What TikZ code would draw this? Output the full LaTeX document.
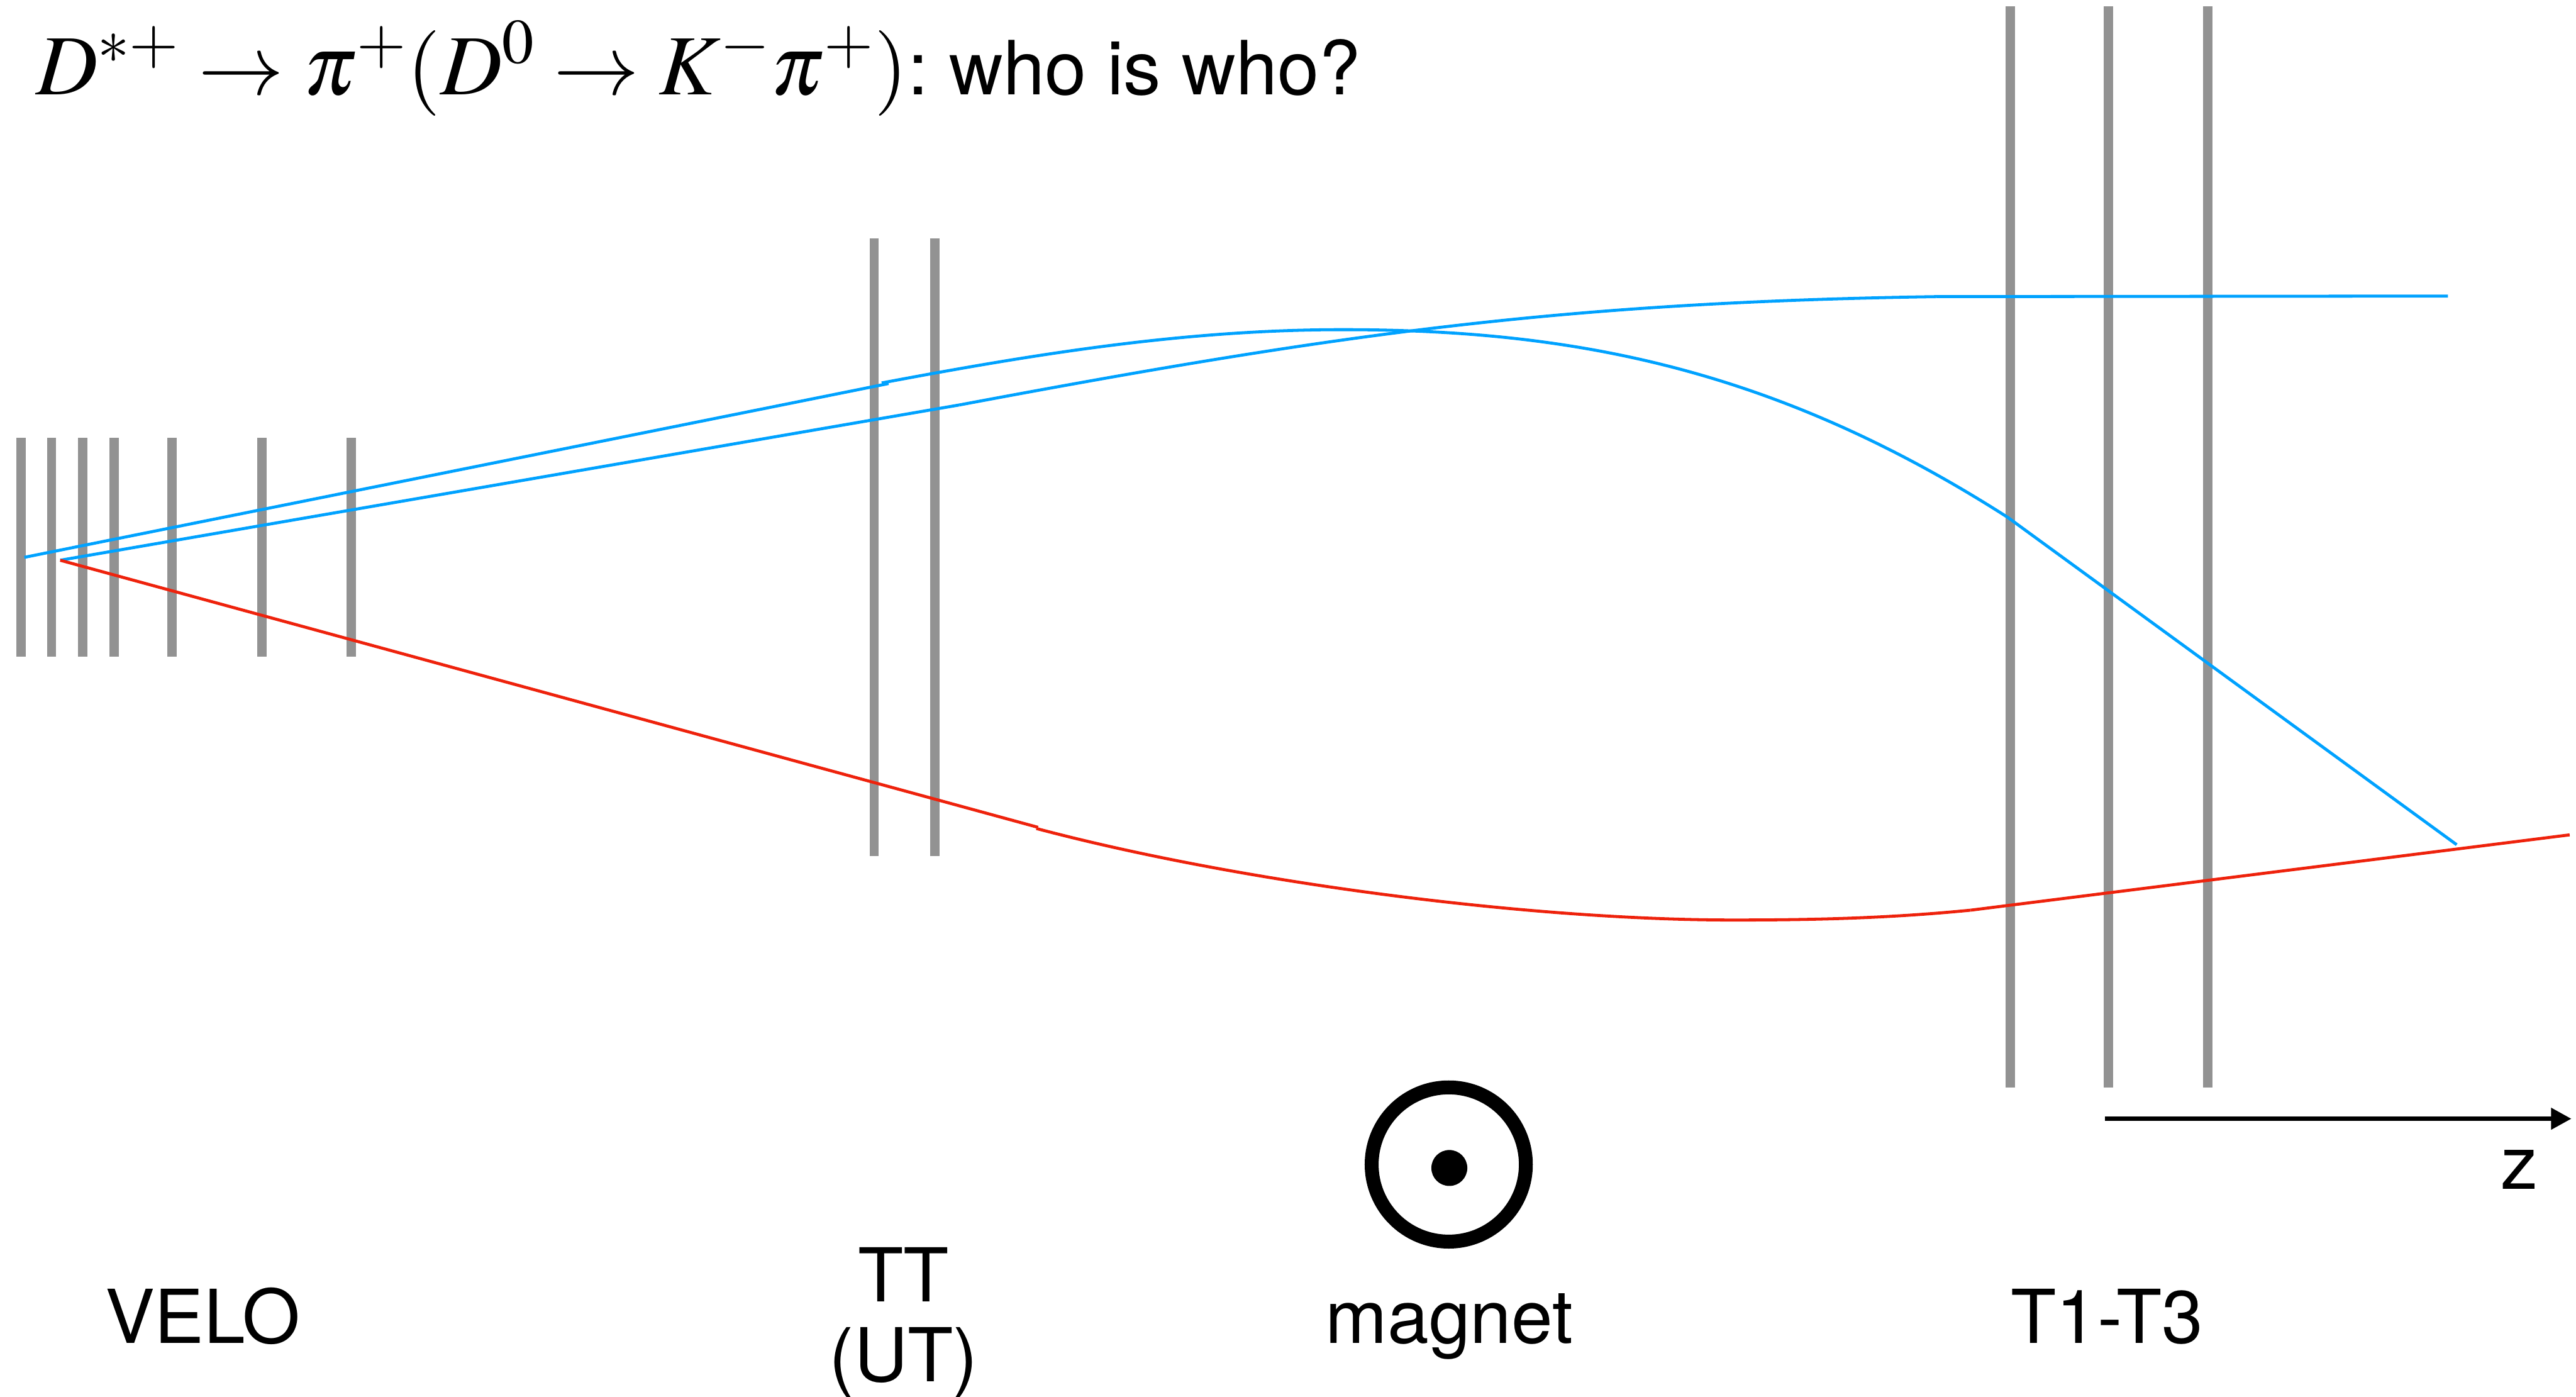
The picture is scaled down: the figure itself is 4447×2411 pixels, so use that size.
\documentclass[tikz,border=0pt]{standalone}
\usepackage{mathptmx}
\usepackage[no-math]{fontspec}
\setmainfont{TeX Gyre Heros}
\usepackage{pgf, tikz}
\usetikzlibrary{arrows.meta}
\pgfdeclarelayer{edgelayer}
\pgfdeclarelayer{nodelayer}
\pgfsetlayers{edgelayer,nodelayer,main}
\definecolor{plane}{HTML}{929292}
\definecolor{pion}{HTML}{00A2FF}
\definecolor{kaon}{HTML}{EE220C}
\tikzstyle{none}=[inner sep=0pt, outer sep=0pt]
\tikzstyle{caption}=[none, anchor=base, font=\fontsize{36.5}{39.3}\selectfont]
\tikzstyle{plane}=[draw=plane, line width=0.16cm]
\tikzstyle{pitrack}=[draw=pion, line width=0.052cm]
\tikzstyle{ktrack}=[draw=kaon, line width=0.052cm]
\tikzstyle{zaxis}=[draw=black, line width=0.075cm, -{Triangle[length=0.35cm, width=0.36cm]}]

\begin{document}
\begin{tikzpicture}[x=0.01cm, y=-0.01cm]
	\useasboundingbox (0, 0) rectangle (4447, 2411);
	\begin{pgfonlayer}{nodelayer}
		\coordinate (0) at (36, 756);
		\coordinate (1) at (36, 1133);
		\coordinate (2) at (89, 756);
		\coordinate (3) at (89, 1133);
		\coordinate (4) at (143, 756);
		\coordinate (5) at (143, 1133);
		\coordinate (6) at (197, 756);
		\coordinate (7) at (197, 1133);
		\coordinate (8) at (297, 756);
		\coordinate (9) at (297, 1133);
		\coordinate (10) at (452, 756);
		\coordinate (11) at (452, 1133);
		\coordinate (12) at (606, 756);
		\coordinate (13) at (606, 1133);
		\coordinate (14) at (1509, 411);
		\coordinate (15) at (1509, 1478);
		\coordinate (16) at (1614, 411);
		\coordinate (17) at (1614, 1478);
		\coordinate (18) at (3470, 11);
		\coordinate (19) at (3470, 1877);
		\coordinate (20) at (3640, 11);
		\coordinate (21) at (3640, 1877);
		\coordinate (22) at (3811, 11);
		\coordinate (23) at (3811, 1877);
		\coordinate (24) at (42, 962);
		\coordinate (25) at (1534, 662);
		\coordinate (26) at (1522, 661);
		\coordinate (27) at (2318, 569);
		\coordinate (28) at (3466, 893);
		\coordinate (29) at (4241, 1458);
		\coordinate (30) at (104, 967);
		\coordinate (31) at (1656, 699);
		\coordinate (32) at (3342, 512);
		\coordinate (33) at (4226, 511);
		\coordinate (34) at (1792, 1428);
		\coordinate (35) at (1789, 1430);
		\coordinate (36) at (2992, 1588);
		\coordinate (37) at (3402, 1571);
		\coordinate (38) at (4436, 1441);
		\coordinate (39) at (3634, 1931);
		\coordinate (40) at (4439, 1931);
		\node [style=none, anchor=base west] (41) at (62, 163) {\fontsize{42}{50}\selectfont$D^{*+}\to\pi^{+}(D^{0}\to K^{-}\pi^{+})$\fontsize{36.7}{40}\selectfont:\hspace{-0.12cm} who is who?};
		\node [style=caption] (42) at (350, 2318) {VELO};
		\node [style=caption, align=center] (43) at (1560, 2385) {TT\\(UT)};
		\node [style=caption] (44) at (2502, 2318) {magnet};
		\node [style=caption] (45) at (3637, 2318) {T1-T3};
		\node [style=caption] (46) at (4349, 2053) {z};
		\node [circle, draw=black, line width=0.24cm, minimum size=2.66cm, inner sep=0pt] (47) at (2501, 2010) {};
		\node [circle, fill=black, minimum size=0.62cm, inner sep=0pt] (48) at (2502, 2016) {};
	\end{pgfonlayer}
	\begin{pgfonlayer}{edgelayer}
		\draw [style=plane] (0) to (1);
		\draw [style=plane] (2) to (3);
		\draw [style=plane] (4) to (5);
		\draw [style=plane] (6) to (7);
		\draw [style=plane] (8) to (9);
		\draw [style=plane] (10) to (11);
		\draw [style=plane] (12) to (13);
		\draw [style=plane] (14) to (15);
		\draw [style=plane] (16) to (17);
		\draw [style=plane] (18) to (19);
		\draw [style=plane] (20) to (21);
		\draw [style=plane] (22) to (23);
		\draw [style=pitrack] (24) to (25);
		\draw [style=pitrack] (26) .. controls (1792, 610) and (2048, 569) .. (27);
		\draw [style=pitrack] (27) .. controls (2718, 569) and (3066, 637) .. (28);
		\draw [style=pitrack] (28) to (29);
		\draw [style=pitrack] (30) to (31);
		\draw [style=pitrack] (31) .. controls (2306, 577) and (2692, 522) .. (32);
		\draw [style=pitrack] (32) to (33);
		\draw [style=ktrack] (30) to (34);
		\draw [style=ktrack] (35) .. controls (2143, 1524) and (2642, 1588) .. (36);
		\draw [style=ktrack] (36) .. controls (3130, 1588) and (3260, 1585) .. (37);
		\draw [style=ktrack] (37) to (38);
		\draw [style=zaxis] (39) to (40);
	\end{pgfonlayer}
\end{tikzpicture}
\end{document}
